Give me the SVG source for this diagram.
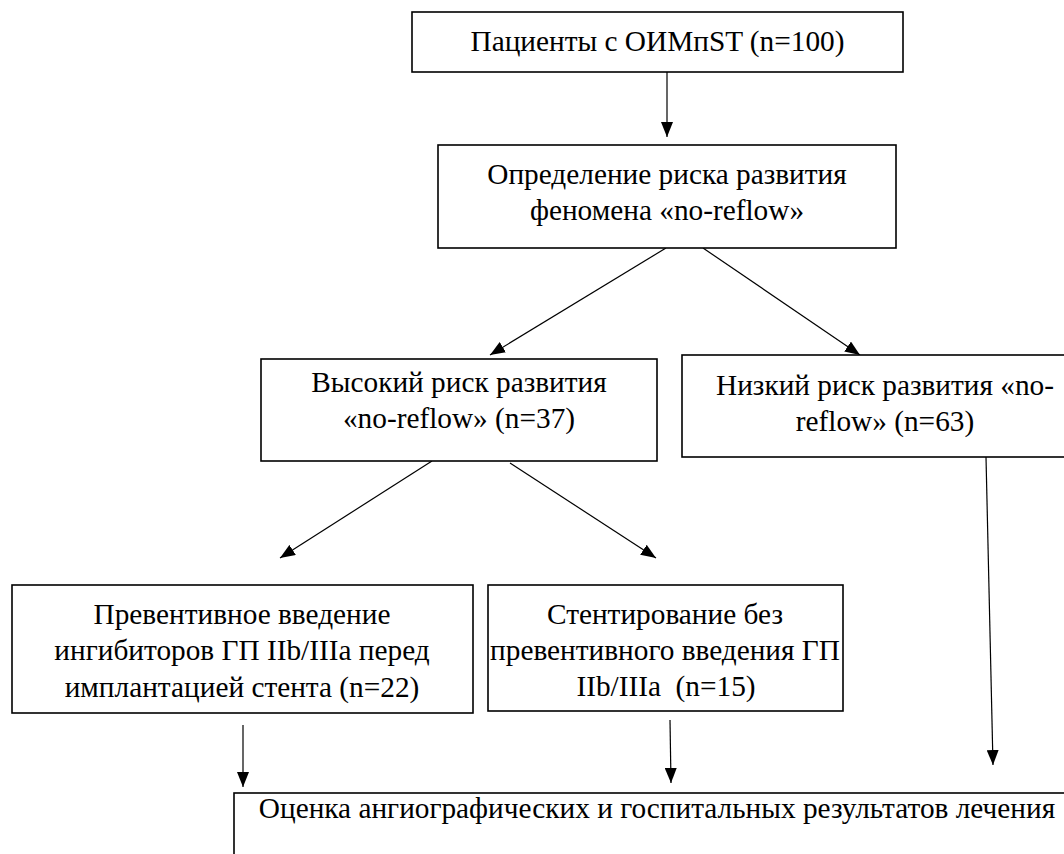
<svg xmlns="http://www.w3.org/2000/svg" width="1064" height="854" viewBox="0 0 1064 854">
<defs>
<marker id="ah" markerUnits="userSpaceOnUse" viewBox="0 -6 15 12" markerWidth="15" markerHeight="12" refX="15" refY="0" orient="auto">
<path d="M0,-6 L15,0 L0,6 Z" fill="#000"/>
</marker>
<style>
.box{fill:#fff;stroke:#000;stroke-width:1.6}
.t{font-family:"Liberation Serif","Times New Roman",serif;font-size:29.3px;fill:#000;text-anchor:middle}
.c{stroke:#000;stroke-width:1.2;fill:none;marker-end:url(#ah)}
</style>
</defs>
<rect width="1064" height="854" fill="#fff"/>
<g id="connectors">
<line class="c" x1="667" y1="72" x2="667" y2="137"/>
<line class="c" x1="666" y1="248" x2="490" y2="355"/>
<line class="c" x1="703" y1="248" x2="860" y2="355"/>
<line class="c" x1="432" y1="461" x2="280" y2="558"/>
<line class="c" x1="510" y1="463" x2="656" y2="558"/>
<line class="c" x1="986" y1="457" x2="993" y2="765"/>
<line class="c" x1="243" y1="725" x2="243" y2="787"/>
<line class="c" x1="670" y1="720" x2="671" y2="783"/>
</g>
<g id="n1">
<rect class="box" x="412" y="12" width="491" height="60"/>
<text class="t" x="657.5" y="51">Пациенты с ОИМпST (n=100)</text>
</g>
<g id="n2">
<rect class="box" x="438" y="145" width="458" height="103"/>
<text class="t" x="667" y="184">Определение риска развития</text>
<text class="t" x="667" y="220">феномена «no-reflow»</text>
</g>
<g id="n3">
<rect class="box" x="261" y="359" width="396" height="102"/>
<text class="t" x="459" y="392">Высокий риск развития</text>
<text class="t" x="459" y="428">«no-reflow» (n=37)</text>
</g>
<g id="n4">
<rect class="box" x="682" y="355" width="410" height="102"/>
<text class="t" x="885" y="395">Низкий риск развития «no-</text>
<text class="t" x="885" y="431">reflow» (n=63)</text>
</g>
<g id="n5">
<rect class="box" x="12" y="585" width="461" height="128"/>
<text class="t" x="242" y="624">Превентивное введение</text>
<text class="t" x="242" y="660">ингибиторов ГП IIb/IIIa перед</text>
<text class="t" x="242" y="697">имплантацией стента (n=22)</text>
</g>
<g id="n6">
<rect class="box" x="488" y="585" width="355" height="126"/>
<text class="t" x="665" y="624">Стентирование без</text>
<text class="t" x="665" y="660">превентивного введения ГП</text>
<text class="t" x="666" y="696" xml:space="preserve">IIb/IIIa  (n=15)</text>
</g>
<g id="n7">
<rect class="box" x="234" y="793" width="860" height="80"/>
<text class="t" x="657" y="818">Оценка ангиографических и госпитальных результатов лечения</text>
</g>
</svg>
